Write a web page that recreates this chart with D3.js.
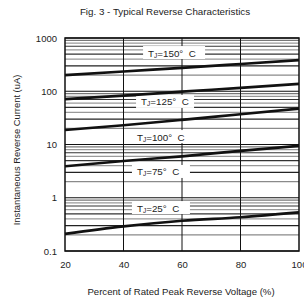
<!DOCTYPE html>
<html lang="en">
<head>
<meta charset="UTF-8">
<title>Fig. 3</title>
<script src="https://cdnjs.cloudflare.com/ajax/libs/d3/7.8.2/d3.min.js"></script>
<style>
    body { margin: 0; background: #fff; }
    svg { display: block; font-family: "Liberation Sans", Arial, sans-serif; }
</style>
</head>
<body>
<div class="container"></div>
<script>
// data
let voltages = [20, 40, 60, 80, 100];
let temps = ['150', '125', '100', '75', '25'];
let i150 = [200, 235, 275, 325, 385];
let i125 = [71, 83, 98, 116, 137];
let i100 = [18.7, 23, 29, 37, 47];
let i75 = [3.9, 4.9, 6, 7.6, 9.4];
let i25 = [0.21, 0.29, 0.37, 0.43, 0.53];
let yTicks = [0.1, 1, 10, 100, 1000];
let xTicks = [20, 40, 60, 80, 100];
// label anchor points (voltage %, current uA)
let labelX = [48.4, 46, 44.6, 44.6, 44.6];
let labelY = [522, 63, 13.8, 3.05, 0.64];

let width = 304;
let height = 299;
let margin = {top: 38, right: 5, bottom: 48, left: 65};

let svg = d3.select('.container').append('svg')
    .attr('width', width).attr('height', height);

let xScale = d3.scaleLinear().domain([20, 100]).range([margin.left, width - margin.right]);
let yScale = d3.scaleLog().domain([0.1, 1000]).range([height - margin.bottom, margin.top]);

// minor grid
let minorColor = {2: '#8a8a8a', 3: '#222', 4: '#999', 5: '#333', 6: '#9a9a9a', 7: '#333', 8: '#999', 9: '#777'};
let minors = [];
[0.1, 1, 10, 100].forEach(d => {
    for (let k = 2; k <= 9; k++) minors.push({v: d * k, k: k});
});
svg.append('g').selectAll('line').data(minors).enter().append('line')
    .attr('x1', xScale(20)).attr('x2', xScale(100))
    .attr('y1', d => yScale(d.v)).attr('y2', d => yScale(d.v))
    .attr('stroke', d => minorColor[d.k]).attr('stroke-width', 1.2);

// major grid
svg.append('g').selectAll('line').data(yTicks).enter().append('line')
    .attr('x1', xScale(20)).attr('x2', xScale(100))
    .attr('y1', d => yScale(d)).attr('y2', d => yScale(d))
    .attr('stroke', '#111').attr('stroke-width', 1.2);

svg.append('g').selectAll('line').data([40, 60, 80]).enter().append('line')
    .attr('x1', d => xScale(d)).attr('x2', d => xScale(d))
    .attr('y1', yScale(1000)).attr('y2', yScale(0.1))
    .attr('stroke', '#111').attr('stroke-width', 1);

// label boxes hide the grid behind the labels
let labels = svg.append('g').selectAll('g').data(temps).enter().append('g')
    .attr('transform', (d, i) => `translate(${xScale(labelX[i])},${yScale(labelY[i])})`);
labels.append('rect')
    .attr('x', -5).attr('y', -7).attr('width', (d, i) => i === 0 ? 62 : 58).attr('height', 13)
    .attr('fill', '#fff');

// frame
svg.append('rect')
    .attr('x', xScale(20)).attr('y', yScale(1000))
    .attr('width', xScale(100) - xScale(20)).attr('height', yScale(0.1) - yScale(1000))
    .attr('fill', 'none').attr('stroke', '#111').attr('stroke-width', 1.5);

// curves
let series = [i150, i125, i100, i75, i25];
let line = d3.line().x((d, i) => xScale(voltages[i])).y(d => yScale(d)).curve(d3.curveMonotoneX);
svg.append('g').selectAll('path').data(series).enter().append('path')
    .attr('d', d => line(d))
    .attr('fill', 'none').attr('stroke', '#111').attr('stroke-width', 2.7);

let lt = labels.append('text').attr('x', 0).attr('y', 3.5)
    .attr('font-size', 9.8).attr('fill', '#222');
lt.append('tspan').text('T');
lt.append('tspan').attr('font-size', 6.5).attr('dy', 1).text('J');
lt.append('tspan').attr('dy', -1).text(d => '=' + d + '\u00b0\u00a0\u00a0C');

// axes
let yAxis = d3.axisLeft(yScale).tickValues(yTicks).tickSize(0).tickPadding(8)
    .tickFormat(d => d < 1 ? '0.1' : d3.format('d')(d));
svg.append('g').attr('transform', `translate(${margin.left},0)`).call(yAxis)
    .call(g => g.select('.domain').remove())
    .selectAll('text').attr('font-size', 9.5).attr('fill', '#222');

let xAxis = d3.axisBottom(xScale).tickValues(xTicks).tickSize(0).tickPadding(10);
svg.append('g').attr('transform', `translate(0,${height - margin.bottom})`).call(xAxis)
    .call(g => g.select('.domain').remove())
    .selectAll('text').attr('font-size', 9.5).attr('fill', '#222');

// titles
svg.append('text').attr('x', 165).attr('y', 15).attr('text-anchor', 'middle')
    .attr('font-size', 9.8).attr('fill', '#222').text('Fig. 3 - Typical Reverse Characteristics');
svg.append('text').attr('x', 181).attr('y', 295).attr('text-anchor', 'middle')
    .attr('font-size', 9.6).attr('fill', '#222').text('Percent of Rated Peak Reverse Voltage (%)');
svg.append('text').attr('transform', 'translate(20,150) rotate(-90)').attr('text-anchor', 'middle')
    .attr('font-size', 9.4).attr('fill', '#222').text('Instantaneous Reverse Current (uA)');
</script>
</body>
</html>
